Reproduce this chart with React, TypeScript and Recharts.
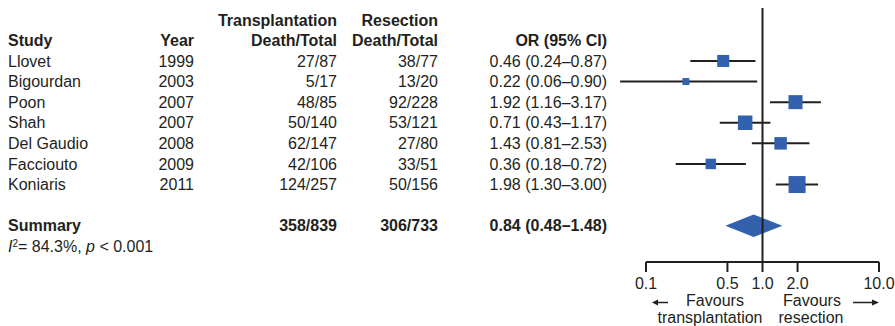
import React from "react";
import {
  ComposedChart,
  Scatter,
  Area,
  XAxis,
  YAxis,
  ReferenceLine,
} from "recharts";

const studies = ["Llovet", "Bigourdan", "Poon", "Shah", "Del Gaudio", "Facciouto", "Koniaris"];
const years = [1999, 2003, 2007, 2007, 2008, 2009, 2011];
const txDeaths = [27, 5, 48, 50, 62, 42, 124];
const txTotals = [87, 17, 85, 140, 147, 106, 257];
const rxDeaths = [38, 13, 92, 53, 27, 33, 50];
const rxTotals = [77, 20, 228, 121, 80, 51, 156];
const oddsRatios = [0.46, 0.22, 1.92, 0.71, 1.43, 0.36, 1.98];
const ciLow = [0.24, 0.06, 1.16, 0.43, 0.81, 0.18, 1.3];
const ciHigh = [0.87, 0.9, 3.17, 1.17, 2.53, 0.72, 3.0];
const weights = [12.5, 4.2, 17.0, 18.2, 13.5, 9.5, 25.0];

const summaryOR = 0.84;
const summaryLow = 0.48;
const summaryHigh = 1.48;
const heterogeneityI2 = "84.3%";
const heterogeneityP = "< 0.001";

const axisTicks = [0.1, 0.5, 1, 2, 10];

// row positions (y-axis units, one unit per study row)
const HEAD1_ROW = -1.95;
const HEAD2_ROW = -1;
const SUMMARY_ROW = 8;
const I2_ROW = 9;
const BLUE = "#3461ad";
const INK = "#231f20";
const FONT = 16;

const sum = (a: number[]) => a.reduce((s, v) => s + v, 0);
const f2 = (v: number) => v.toFixed(2);

const studyData = studies.map((s, i) => ({
  x: oddsRatios[i],
  y: i,
  weight: weights[i],
}));

// diamond drawn as a ranged area: OR low -> point -> OR high
const diamondHalf = 0.55;
const diamondData = [
  { x: summaryLow, band: [SUMMARY_ROW, SUMMARY_ROW] },
  { x: summaryOR, band: [SUMMARY_ROW - diamondHalf, SUMMARY_ROW + diamondHalf] },
  { x: summaryHigh, band: [SUMMARY_ROW, SUMMARY_ROW] },
];

const rowTicks = [HEAD1_ROW, HEAD2_ROW, 0, 1, 2, 3, 4, 5, 6, SUMMARY_ROW, I2_ROW];

const COL = { study: 8, year: 194, tx: 337, rx: 438, or: 607 };

function RowTick(props: any) {
  const { y, payload } = props;
  const v = payload.value;
  const common = { y, dy: "0.35em", fill: INK, fontSize: FONT };
  if (v === HEAD1_ROW) {
    return (
      <g fontWeight="bold">
        <text {...common} x={COL.tx} textAnchor="end">Transplantation</text>
        <text {...common} x={COL.rx} textAnchor="end">Resection</text>
      </g>
    );
  }
  if (v === HEAD2_ROW) {
    return (
      <g fontWeight="bold">
        <text {...common} x={COL.study}>Study</text>
        <text {...common} x={COL.year} textAnchor="end">Year</text>
        <text {...common} x={COL.tx} textAnchor="end">Death/Total</text>
        <text {...common} x={COL.rx} textAnchor="end">Death/Total</text>
        <text {...common} x={COL.or} textAnchor="end">OR (95% CI)</text>
      </g>
    );
  }
  if (v === SUMMARY_ROW) {
    return (
      <g fontWeight="bold">
        <text {...common} x={COL.study}>Summary</text>
        <text {...common} x={COL.tx} textAnchor="end">{`${sum(txDeaths)}/${sum(txTotals)}`}</text>
        <text {...common} x={COL.rx} textAnchor="end">{`${sum(rxDeaths)}/${sum(rxTotals)}`}</text>
        <text {...common} x={COL.or} textAnchor="end">
          {`${f2(summaryOR)} (${f2(summaryLow)}–${f2(summaryHigh)})`}
        </text>
      </g>
    );
  }
  if (v === I2_ROW) {
    return (
      <text {...common} x={COL.study}>
        <tspan fontStyle="italic">I</tspan>
        <tspan fontSize={10} dy={-5}>2</tspan>
        <tspan dy={5}>{`= ${heterogeneityI2}, `}</tspan>
        <tspan fontStyle="italic">p</tspan>
        <tspan>{` ${heterogeneityP}`}</tspan>
      </text>
    );
  }
  const i = v;
  return (
    <g>
      <text {...common} x={COL.study}>{studies[i]}</text>
      <text {...common} x={COL.year} textAnchor="end">{years[i]}</text>
      <text {...common} x={COL.tx} textAnchor="end">{`${txDeaths[i]}/${txTotals[i]}`}</text>
      <text {...common} x={COL.rx} textAnchor="end">{`${rxDeaths[i]}/${rxTotals[i]}`}</text>
      <text {...common} x={COL.or} textAnchor="end">
        {`${f2(oddsRatios[i])} (${f2(ciLow[i])}–${f2(ciHigh[i])})`}
      </text>
    </g>
  );
}

function WeightSquare(props: any) {
  const { cx, cy, payload } = props;
  const side = 3.4 * Math.sqrt(payload.weight);
  return <rect x={cx - side / 2} y={cy - side / 2} width={side} height={side} fill={BLUE} />;
}

function FavoursLabel(props: any) {
  const { x, y } = props.viewBox;
  const t = { fill: INK, fontSize: FONT, textAnchor: "middle" as const };
  const ay = y + 40.5;
  return (
    <g>
      <text {...t} x={x + 69} y={y + 44}>Favours</text>
      <text {...t} x={x + 64} y={y + 61}>transplantation</text>
      <text {...t} x={x + 166} y={y + 44}>Favours</text>
      <text {...t} x={x + 165} y={y + 61}>resection</text>
      <line x1={x + 11} y1={ay} x2={x + 22} y2={ay} stroke={INK} strokeWidth={1.5} />
      <polygon points={`${x + 6},${ay} ${x + 12},${ay - 3} ${x + 12},${ay + 3}`} fill={INK} />
      <line x1={x + 207} y1={ay} x2={x + 227} y2={ay} stroke={INK} strokeWidth={1.5} />
      <polygon points={`${x + 233},${ay} ${x + 226},${ay - 3} ${x + 226},${ay + 3}`} fill={INK} />
    </g>
  );
}

export default function App() {
  return (
    <div
      style={{
        position: "absolute",
        left: 0,
        top: 0,
        fontFamily: "'Liberation Sans', Arial, Helvetica, sans-serif",
      }}
    >
      <ComposedChart width={895} height={326} margin={{ top: 8, right: 16, bottom: 0, left: 0 }}>
        <XAxis
          type="number"
          dataKey="x"
          scale="log"
          domain={[0.1, 10]}
          ticks={axisTicks}
          interval={0}
          tickFormatter={(v: number) => v.toFixed(1)}
          tickSize={10}
          tickMargin={6}
          height={64}
          axisLine={{ stroke: INK, strokeWidth: 2 }}
          tickLine={{ stroke: INK, strokeWidth: 2 }}
          tick={{ fill: INK, fontSize: FONT }}
          label={<FavoursLabel />}
        />
        <YAxis
          type="number"
          dataKey="y"
          reversed
          domain={[-2.57, 9.76]}
          ticks={rowTicks}
          interval={0}
          width={646}
          axisLine={false}
          tickLine={false}
          tick={<RowTick />}
        />
        <ReferenceLine x={1} stroke={INK} strokeWidth={2} />
        {studies.map((s, i) => (
          <ReferenceLine
            key={s}
            segment={[
              { x: ciLow[i], y: i },
              { x: ciHigh[i], y: i },
            ]}
            ifOverflow="visible"
            stroke={INK}
            strokeWidth={2}
          />
        ))}
        <Scatter data={studyData} shape={<WeightSquare />} isAnimationActive={false} />
        <Area
          data={diamondData}
          dataKey="band"
          type="linear"
          stroke="none"
          fill={BLUE}
          fillOpacity={1}
          isAnimationActive={false}
        />
      </ComposedChart>
    </div>
  );
}
